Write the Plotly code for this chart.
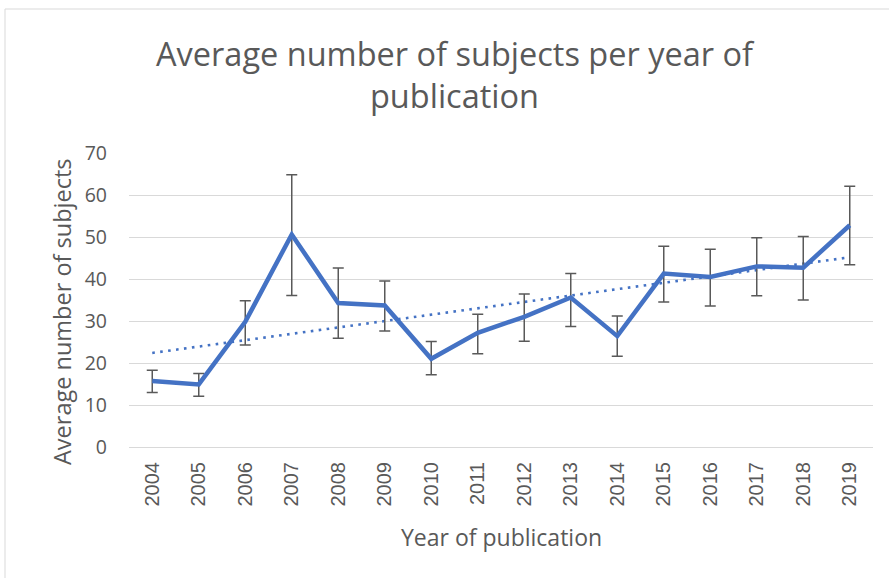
import numpy as np
import plotly.graph_objects as go

years = ["2004", "2005", "2006", "2007", "2008", "2009", "2010", "2011",
         "2012", "2013", "2014", "2015", "2016", "2017", "2018", "2019"]
avg_subjects = [15.7, 14.9, 29.8, 50.6, 34.3, 33.7, 21.0, 27.2,
                31.0, 35.6, 26.4, 41.3, 40.5, 43.0, 42.7, 52.8]
err_plus = [2.6, 2.6, 5.0, 14.2, 8.3, 5.8, 4.1, 4.4,
            5.4, 5.7, 4.8, 6.5, 6.6, 6.8, 7.4, 9.3]
err_minus = [2.7, 2.8, 5.5, 14.5, 8.4, 6.1, 3.8, 5.0,
             5.8, 6.9, 4.8, 6.8, 6.9, 7.0, 7.7, 9.4]
y_ticks = [0, 10, 20, 30, 40, 50, 60, 70]

# linear trend line fitted to the series
idx = np.arange(len(years))
slope, intercept = np.polyfit(idx, avg_subjects, 1)
trend = slope * idx + intercept

W, H = 889, 578
ML, MR, MT, MB = 129, 16, 153, 131

fig = go.Figure()
fig.add_trace(go.Scatter(
    x=years, y=trend, mode="lines",
    line=dict(color="#4472C4", width=2.6, dash="2.6px,5.4px"),
    showlegend=False, hoverinfo="skip"))
fig.add_trace(go.Scatter(
    x=years, y=avg_subjects, mode="lines",
    line=dict(color="#4472C4", width=4.5),
    error_y=dict(type="data", symmetric=False, array=err_plus, arrayminus=err_minus,
                 color="#595959", thickness=1.5, width=5.5),
    showlegend=False))

pw = W - ML - MR
ph = H - MT - MB
def px_x(p):
    return (p - ML) / pw
def px_y(p):
    return (H - MB - p) / ph

fig.add_shape(type="rect", xref="paper", yref="paper",
              x0=px_x(5), x1=px_x(W + 20), y0=px_y(H + 20), y1=px_y(9),
              line=dict(color="#D9D9D9", width=1), fillcolor="rgba(0,0,0,0)", layer="below")

axis_font = dict(family="Open Sans", size=23.5, color="#595959")
fig.add_annotation(text="Average number of subjects", textangle=-90,
                   xref="paper", yref="paper", x=px_x(62), y=px_y(312),
                   xanchor="center", yanchor="middle", showarrow=False, font=axis_font)
fig.add_annotation(text="Year of publication",
                   xref="paper", yref="paper", x=px_x(501), y=px_y(537),
                   xanchor="center", yanchor="middle", showarrow=False,
                   font=dict(family="Open Sans", size=23, color="#595959"))

fig.update_layout(
    width=W, height=H,
    margin=dict(l=ML, r=MR, t=MT, b=MB, autoexpand=False),
    paper_bgcolor="white", plot_bgcolor="white",
    title=dict(text="Average number of subjects per year of<br>publication",
               x=(157 + 752) / 2 / W, xanchor="center", xref="container",
               y=1 - 66 / H, yanchor="top", yref="container", automargin=False,
               font=dict(family="Open Sans", size=32.5, color="#595959")),
    xaxis=dict(type="category", range=[-0.5, len(years) - 0.5], tickangle=-90,
               showgrid=False, automargin=False,
               showline=False, zeroline=False, ticks="",
               ticklabelstandoff=10,
               tickfont=dict(family="Liberation Sans", size=20, color="#595959")),
    yaxis=dict(range=[0, 70], tickvals=y_ticks, showgrid=True, gridcolor="#D9D9D9",
               gridwidth=1, zeroline=True, zerolinecolor="#D9D9D9", zerolinewidth=1,
               showline=False, ticks="", ticklabelstandoff=21, automargin=False,
               tickfont=dict(family="Open Sans", size=19.5, color="#595959")),
)

fig.write_html("out.html", config={"displayModeBar": False},
               post_script="document.body.style.margin='0';document.body.style.overflow='hidden';")
